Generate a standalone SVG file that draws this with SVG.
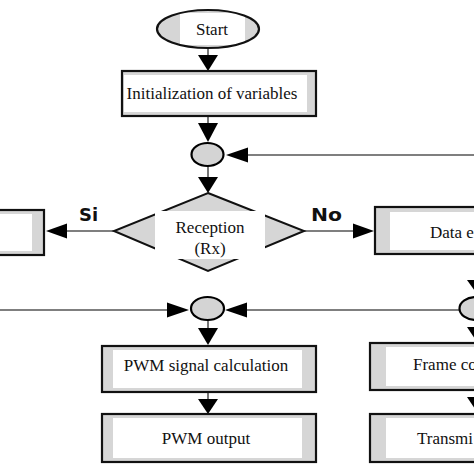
<svg xmlns="http://www.w3.org/2000/svg" width="474" height="474" viewBox="0 0 474 474">
<style>
.box{fill:#d6d6d6;stroke:#111;stroke-width:2.2}
.in{fill:#fff}
.t{font-family:"Liberation Serif","Times New Roman",serif;font-size:17px;fill:#111}
.lb{font-family:"DejaVu Sans",sans-serif;font-size:18px;font-weight:bold;fill:#111}
.ln{stroke:#555;stroke-width:1.6;fill:none}
.ah{fill:#000}
.jn{fill:#d4d4d4;stroke:#000;stroke-width:2.2}
</style>
<rect width="474" height="474" fill="#fff"/>
<g id="connectors">
<line class="ln" x1="208" y1="48" x2="208" y2="56"/>
<polygon class="ah" points="198,55 218,55 208,71"/>
<line class="ln" x1="208" y1="116" x2="208" y2="124"/>
<polygon class="ah" points="198,123 218,123 208,142"/>
<line class="ln" x1="474" y1="155" x2="247" y2="155"/>
<polygon class="ah" points="248,147.5 248,162.5 226,155"/>
<line class="ln" x1="208" y1="166" x2="208" y2="178"/>
<polygon class="ah" points="198,177 218,177 208,193"/>
<line class="ln" x1="114" y1="231" x2="66" y2="231"/>
<polygon class="ah" points="67,223.5 67,238.5 46,231"/>
<line class="ln" x1="304" y1="231" x2="354" y2="231"/>
<polygon class="ah" points="353,223.5 353,238.5 374,231"/>
<line class="ln" x1="0" y1="310" x2="168" y2="310"/>
<polygon class="ah" points="167,302.5 167,317.5 189,310"/>
<line class="ln" x1="247" y1="310" x2="460" y2="310"/>
<polygon class="ah" points="247,302.5 247,317.5 225,310"/>
<line class="ln" x1="208" y1="320" x2="208" y2="329"/>
<polygon class="ah" points="198,328 218,328 208,345"/>
<line class="ln" x1="208" y1="392" x2="208" y2="400"/>
<polygon class="ah" points="198,399 218,399 208,414"/>
<polygon class="ah" points="467,280 487,280 477,294"/>
<polygon class="ah" points="467,327 487,327 477,342"/>
<polygon class="ah" points="467,397 487,397 477,412"/>
<text class="lb" x="79" y="221">Si</text>
<text class="lb" x="311" y="221" textLength="31" lengthAdjust="spacingAndGlyphs">No</text>
</g>
<g id="start">
<ellipse cx="208" cy="29" rx="51" ry="19" fill="#d6d6d6"/>
<rect class="in" x="180" y="13" width="65" height="32"/>
<ellipse cx="208" cy="29" rx="51" ry="19" fill="none" stroke="#111" stroke-width="2.2"/>
<text class="t" x="212" y="35" text-anchor="middle">Start</text>
</g>
<g id="init">
<rect class="box" x="122" y="71" width="194" height="45"/>
<rect class="in" x="124" y="75" width="183" height="37"/>
<text class="t" x="212" y="99" text-anchor="middle">Initialization of variables</text>
</g>
<g id="junction1">
<ellipse class="jn" cx="207.5" cy="154.5" rx="16" ry="11.5"/>
</g>
<g id="reception">
<polygon points="208,193 304,231 208,271 114,231" fill="#d6d6d6" stroke="#111" stroke-width="2"/>
<rect class="in" x="155" y="211" width="110" height="48"/>
<text class="t" x="210" y="233" text-anchor="middle">Reception</text>
<text class="t" x="210" y="254" text-anchor="middle">(Rx)</text>
</g>
<g id="left-box">
<rect class="box" x="-10" y="210" width="54" height="45"/>
<rect class="in" x="-10" y="214" width="42" height="37"/>
</g>
<g id="data">
<rect class="box" x="375" y="207" width="110" height="47"/>
<rect class="in" x="390" y="212" width="90" height="38"/>
<text class="t" x="430" y="238">Data e</text>
</g>
<g id="junction2">
<ellipse class="jn" cx="207.5" cy="308.5" rx="16.5" ry="11.5"/>
</g>
<g id="junction3">
<ellipse class="jn" cx="476" cy="308.5" rx="16.5" ry="11.5"/>
</g>
<g id="pwm-calc">
<rect class="box" x="102" y="346" width="214" height="46"/>
<rect class="in" x="113" y="350" width="189" height="38"/>
<text class="t" x="206" y="371" text-anchor="middle">PWM signal calculation</text>
</g>
<g id="pwm-out">
<rect class="box" x="102" y="414" width="214" height="48"/>
<rect class="in" x="113" y="418" width="189" height="40"/>
<text class="t" x="206" y="444" text-anchor="middle">PWM output</text>
</g>
<g id="frame">
<rect class="box" x="370" y="343" width="115" height="47"/>
<rect class="in" x="386" y="347" width="94" height="39"/>
<text class="t" x="413" y="370">Frame co</text>
</g>
<g id="transmit">
<rect class="box" x="370" y="414" width="115" height="48"/>
<rect class="in" x="386" y="418" width="94" height="40"/>
<text class="t" x="417" y="444">Transmi</text>
</g>
</svg>
